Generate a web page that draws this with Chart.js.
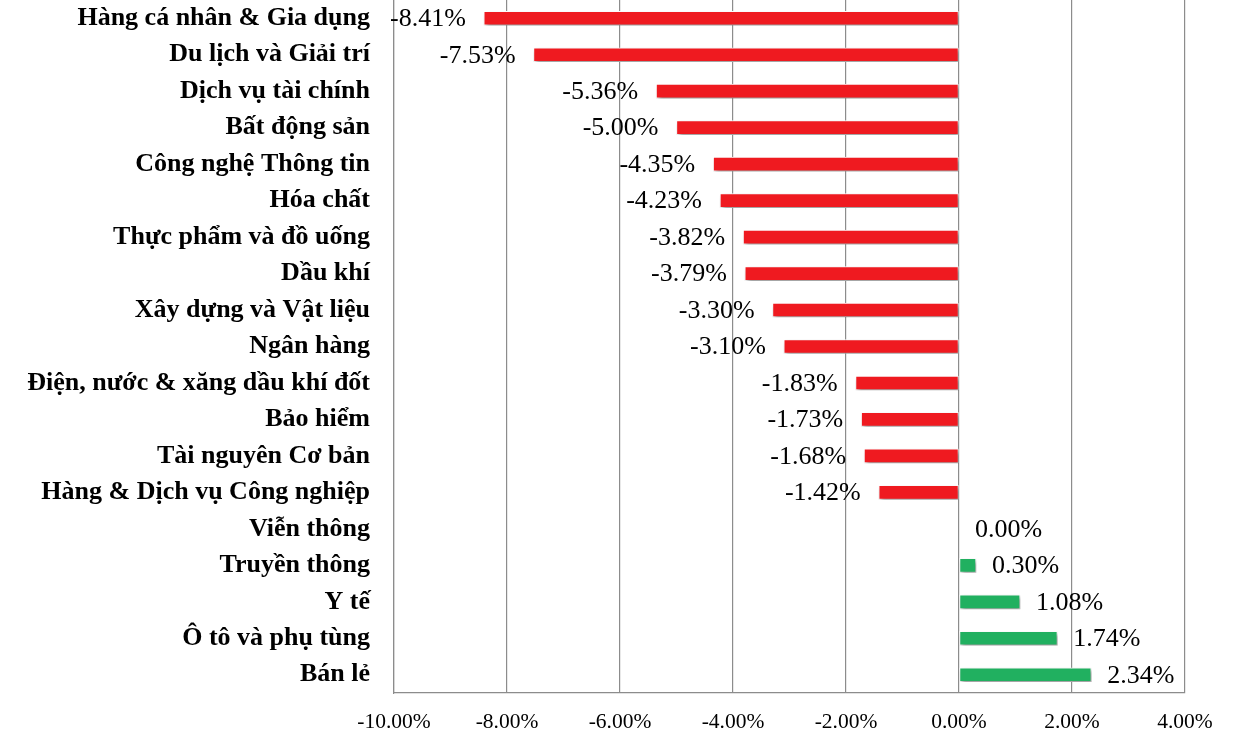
<!DOCTYPE html>
<html>
<head>
<meta charset="utf-8">
<script src="https://cdn.jsdelivr.net/npm/chart.js@4"></script>
<style>
  html, body { margin: 0; padding: 0; background: #fff; }
  #wrap { width: 1234px; height: 752px; }
</style>
</head>
<body>
<div id="wrap"><canvas id="chart"></canvas></div>
<script>
// Data
const sectors = [
    'Hàng cá nhân & Gia dụng', 'Du lịch và Giải trí', 'Dịch vụ tài chính', 'Bất động sản',
    'Công nghệ Thông tin', 'Hóa chất', 'Thực phẩm và đồ uống', 'Dầu khí',
    'Xây dựng và Vật liệu', 'Ngân hàng', 'Điện, nước & xăng dầu khí đốt', 'Bảo hiểm',
    'Tài nguyên Cơ bản', 'Hàng & Dịch vụ Công nghiệp', 'Viễn thông', 'Truyền thông',
    'Y tế', 'Ô tô và phụ tùng', 'Bán lẻ'
];
const changes = [
    -8.41, -7.53, -5.36, -5.00, -4.35, -4.23, -3.82, -3.79, -3.30, -3.10,
    -1.83, -1.73, -1.68, -1.42, 0.00, 0.30, 1.08, 1.74, 2.34
];
const xTicks = [-10, -8, -6, -4, -2, 0, 2, 4];

const RED = '#ef1a20';
const GREEN = '#21b060';
const SERIF = '"Liberation Serif", "Times New Roman", serif';

// Shadow under bars
const shadowPlugin = {
    id: 'barShadow',
    beforeDatasetsDraw(chart) {
        const ctx = chart.ctx;
        ctx.save();
        ctx.shadowColor = 'rgba(0,0,0,0.4)';
        ctx.shadowBlur = 4;
        ctx.shadowOffsetX = 2;
        ctx.shadowOffsetY = 3;
    },
    afterDatasetsDraw(chart) {
        chart.ctx.restore();
    }
};

// Value labels at bar ends
const valueLabels = {
    id: 'valueLabels',
    afterDraw(chart) {
        const ctx = chart.ctx;
        const meta = chart.getDatasetMeta(0);
        ctx.save();
        ctx.font = '26px ' + SERIF;
        ctx.fillStyle = '#000';
        ctx.textBaseline = 'middle';
        meta.data.forEach((bar, i) => {
            const v = changes[i];
            const txt = v.toFixed(2) + '%';
            if (v < 0) {
                ctx.textAlign = 'right';
                ctx.fillText(txt, bar.x - 18, bar.y + 1);
            } else {
                ctx.textAlign = 'left';
                ctx.fillText(txt, bar.x + 16, bar.y + 1);
            }
        });
        ctx.restore();
    }
};

new Chart(document.getElementById('chart'), {
    type: 'bar',
    data: {
        labels: sectors,
        datasets: [{
            data: changes,
            backgroundColor: changes.map(v => v < 0 ? RED : GREEN),
            borderColor: '#ffffff',
            borderWidth: 1,
            borderSkipped: false,
            barThickness: 14
        }]
    },
    options: {
        indexAxis: 'y',
        responsive: true,
        maintainAspectRatio: false,
        animation: false,
        layout: { padding: { top: 0, right: 49, bottom: 0, left: 0 } },
        plugins: {
            legend: { display: false },
            tooltip: { enabled: false }
        },
        scales: {
            x: {
                min: -10,
                max: 4,
                afterBuildTicks: scale => { scale.ticks = xTicks.map(v => ({ value: v })); },
                afterFit: scale => { scale.height = 59; },
                grid: { color: '#8c8c8c', lineWidth: 1.2, drawTicks: false },
                border: { color: '#8c8c8c', width: 1.2 },
                ticks: {
                    padding: 16,
                    color: '#000',
                    font: { family: SERIF, size: 21.5 },
                    callback: v => v.toFixed(2) + '%'
                }
            },
            y: {
                afterFit: scale => {
                    scale.width = 394;
                    scale.paddingTop = 0;
                    scale.paddingBottom = 0;
                },
                grid: { display: false, drawTicks: false },
                border: { color: '#8c8c8c', width: 1.2 },
                ticks: {
                    padding: 24,
                    color: '#000',
                    font: { family: SERIF, size: 26, weight: 'bold' }
                }
            }
        }
    },
    plugins: [shadowPlugin, valueLabels]
});
</script>
</body>
</html>
